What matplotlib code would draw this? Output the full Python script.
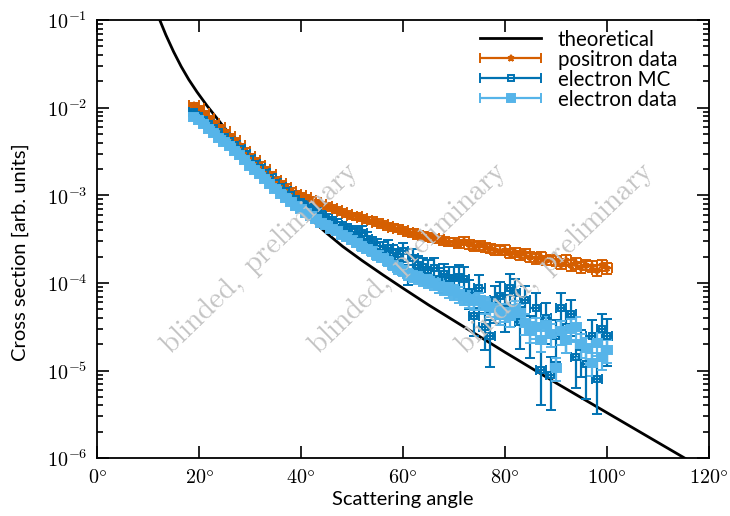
import numpy as np
import matplotlib
matplotlib.use("Agg")
import matplotlib.pyplot as plt
from matplotlib.ticker import FixedLocator, FixedFormatter, LogLocator, NullFormatter
from matplotlib.lines import Line2D
from matplotlib.container import ErrorbarContainer
from matplotlib.legend_handler import HandlerErrorbar

# ---------------- data ----------------
angles = list(range(19, 101))  # degrees, bin centres

positron_log10 = [
    -1.97, -2.00, -2.06, -2.12, -2.17, -2.22, -2.27, -2.32, -2.37, -2.43,
    -2.49, -2.55, -2.60, -2.65, -2.70, -2.76, -2.82, -2.86, -2.90, -2.95,
    -2.98, -3.00, -3.02, -3.05, -3.08, -3.10, -3.12, -3.14, -3.17, -3.19,
    -3.21, -3.23, -3.24, -3.26, -3.28, -3.29, -3.31, -3.33, -3.35, -3.37,
    -3.38, -3.40, -3.42, -3.43, -3.45, -3.46, -3.47, -3.49, -3.50, -3.52,
    -3.53, -3.53, -3.55, -3.52, -3.56, -3.58, -3.57, -3.59, -3.60, -3.62,
    -3.63, -3.62, -3.66, -3.65, -3.68, -3.66, -3.70, -3.72, -3.70, -3.74,
    -3.73, -3.75, -3.78, -3.74, -3.80, -3.77, -3.82, -3.79, -3.81, -3.85,
    -3.80, -3.83]
positron_relerr = [
    0.05, 0.05, 0.05, 0.05, 0.05, 0.05, 0.05, 0.05, 0.05, 0.05,
    0.06, 0.06, 0.06, 0.06, 0.06, 0.06, 0.06, 0.06, 0.06, 0.07,
    0.07, 0.07, 0.07, 0.07, 0.07, 0.07, 0.08, 0.08, 0.08, 0.08,
    0.08, 0.08, 0.08, 0.08, 0.09, 0.09, 0.09, 0.09, 0.09, 0.09,
    0.09, 0.10, 0.10, 0.10, 0.10, 0.10, 0.10, 0.10, 0.10, 0.11,
    0.11, 0.11, 0.11, 0.11, 0.11, 0.11, 0.11, 0.12, 0.12, 0.12,
    0.12, 0.12, 0.12, 0.12, 0.12, 0.13, 0.13, 0.13, 0.13, 0.13,
    0.13, 0.13, 0.13, 0.14, 0.14, 0.14, 0.14, 0.14, 0.14, 0.14,
    0.14, 0.14]

mc_log10 = [
    -2.05, -2.09, -2.14, -2.19, -2.23, -2.28, -2.33, -2.38, -2.43, -2.47,
    -2.53, -2.59, -2.64, -2.69, -2.74, -2.80, -2.86, -2.91, -2.95, -3.00,
    -3.04, -3.08, -3.12, -3.15, -3.19, -3.23, -3.27, -3.31, -3.34, -3.37,
    -3.40, -3.42, -3.45, -3.43, -3.50, -3.55, -3.58, -3.62, -3.60, -3.66,
    -3.70, -3.64, -3.89, -3.72, -3.80, -3.82, -3.85, -3.83, -3.95, -3.90,
    -3.94, -3.94, -3.93, -3.95, -4.10, -4.38, -4.06, -4.50, -4.61, -4.20,
    -4.15, -4.30, -4.06, -4.12, -4.45, -4.20, -4.55, -4.28, -4.99, -4.40,
    -5.05, -4.60, -4.28, -4.50, -4.35, -4.85, -4.73, -4.93, -4.60, -5.10,
    -4.53, -4.60]
mc_relerr = [
    0.05, 0.05, 0.05, 0.06, 0.06, 0.06, 0.06, 0.07, 0.07, 0.07,
    0.08, 0.08, 0.08, 0.09, 0.09, 0.10, 0.10, 0.10, 0.11, 0.11,
    0.12, 0.12, 0.13, 0.13, 0.14, 0.14, 0.15, 0.15, 0.16, 0.16,
    0.17, 0.18, 0.18, 0.19, 0.20, 0.20, 0.21, 0.22, 0.22, 0.23,
    0.24, 0.25, 0.26, 0.27, 0.28, 0.28, 0.29, 0.30, 0.31, 0.32,
    0.33, 0.34, 0.35, 0.36, 0.37, 0.40, 0.40, 0.45, 0.55, 0.45,
    0.45, 0.45, 0.45, 0.45, 0.50, 0.45, 0.50, 0.45, 0.60, 0.50,
    0.60, 0.50, 0.45, 0.50, 0.45, 0.55, 0.55, 0.60, 0.50, 0.60,
    0.50, 0.55]

edata_log10 = [
    -2.10, -2.14, -2.19, -2.24, -2.29, -2.34, -2.39, -2.44, -2.49, -2.54,
    -2.60, -2.66, -2.71, -2.76, -2.81, -2.87, -2.93, -2.98, -3.03, -3.08,
    -3.12, -3.16, -3.20, -3.23, -3.27, -3.31, -3.34, -3.38, -3.41, -3.45,
    -3.48, -3.51, -3.54, -3.58, -3.61, -3.64, -3.68, -3.71, -3.75, -3.79,
    -3.83, -3.86, -3.90, -3.92, -3.94, -3.96, -3.98, -4.00, -4.03, -4.05,
    -4.08, -4.10, -4.13, -4.16, -4.18, -4.21, -4.20, -4.25, -4.27, -4.28,
    -4.36, -4.33, -4.38, -4.30, -4.34, -4.46, -4.55, -4.50, -4.65, -4.48,
    -4.58, -4.97, -4.55, -4.65, -4.52, -4.50, -4.70, -4.74, -4.91, -4.68,
    -4.84, -4.76]
edata_relerr = [
    0.04, 0.04, 0.04, 0.04, 0.04, 0.04, 0.04, 0.05, 0.05, 0.05,
    0.05, 0.05, 0.05, 0.05, 0.06, 0.06, 0.06, 0.06, 0.06, 0.07,
    0.07, 0.07, 0.07, 0.08, 0.08, 0.08, 0.08, 0.09, 0.09, 0.09,
    0.10, 0.10, 0.10, 0.11, 0.11, 0.11, 0.12, 0.12, 0.13, 0.13,
    0.14, 0.14, 0.15, 0.15, 0.16, 0.16, 0.17, 0.17, 0.18, 0.18,
    0.19, 0.19, 0.20, 0.20, 0.21, 0.21, 0.22, 0.22, 0.23, 0.23,
    0.24, 0.24, 0.25, 0.25, 0.26, 0.26, 0.27, 0.27, 0.28, 0.28,
    0.29, 0.29, 0.30, 0.30, 0.30, 0.30, 0.30, 0.30, 0.30, 0.30,
    0.30, 0.30]

bin_halfwidth = 1.0

theory_angles = [12.3, 13.5, 15.0, 16.5, 18.0, 19.6, 21.6, 25, 30, 35, 40, 45, 48.2,
                 52, 56, 60, 65, 70, 75, 80, 85, 90, 95, 100, 105, 110, 115.3, 118]
theory_log10 = [-1.0, -1.17, -1.36, -1.53, -1.68, -1.82, -1.98, -2.23, -2.57, -2.885,
                -3.17, -3.43, -3.584, -3.745, -3.905, -4.06, -4.25, -4.43, -4.61,
                -4.79, -4.965, -5.14, -5.31, -5.48, -5.65, -5.82, -6.0, -6.09]

x_ticks = [0, 20, 40, 60, 80, 100, 120]
x_ticklabels = [r"$0\degree$", r"$20\degree$", r"$40\degree$", r"$60\degree$",
                r"$80\degree$", r"$100\degree$", r"$120\degree$"]
y_ticks = [1e-6, 1e-5, 1e-4, 1e-3, 1e-2, 1e-1]
y_ticklabels = [r"$10^{-6}$", r"$10^{-5}$", r"$10^{-4}$", r"$10^{-3}$",
                r"$10^{-2}$", r"$10^{-1}$"]

# ---------------- styling ----------------
plt.rcParams["mathtext.fontset"] = "cm"
plt.rcParams["font.family"] = ["Lato", "DejaVu Sans"]

c_pos = "#D55E00"
c_mc = "#0072B2"
c_dat = "#56B4E9"

fig = plt.figure(figsize=(7.3, 5.16), dpi=100)
ax = fig.add_axes([0.133, 0.112, 0.838, 0.849])

h_th, = ax.plot(theory_angles, 10 ** np.array(theory_log10), color="black", lw=2.0,
                label="theoretical", zorder=2)

eb_kw = dict(mew=1.4, lw=1.6, capsize=3.5, capthick=1.6, ls="none")

def draw(logv, rel, color, marker, label, ms, mfc):
    y = 10 ** np.array(logv)
    return ax.errorbar(angles, y, yerr=y * np.array(rel), xerr=bin_halfwidth,
                       color=color, marker=marker, ms=ms, mfc=mfc, mec=color,
                       label=label, zorder=3, **eb_kw)

h_pos = draw(positron_log10, positron_relerr, c_pos, "*", "positron data", 5, c_pos)
h_mc = draw(mc_log10, mc_relerr, c_mc, "s", "electron MC", 5, "none")
h_dat = draw(edata_log10, edata_relerr, c_dat, "s", "electron data", 6, c_dat)

ax.set_yscale("log")
ax.set_xlim(0, 120)
ax.set_ylim(1e-6, 1e-1)

ax.xaxis.set_major_locator(FixedLocator(x_ticks))
ax.xaxis.set_major_formatter(FixedFormatter(x_ticklabels))
ax.yaxis.set_major_locator(FixedLocator(y_ticks))
ax.yaxis.set_major_formatter(FixedFormatter(y_ticklabels))
ax.yaxis.set_minor_locator(LogLocator(base=10, subs=np.arange(2, 10), numticks=20))
ax.yaxis.set_minor_formatter(NullFormatter())

ax.tick_params(which="both", direction="in", top=True, right=True, labelsize=14.5,
               width=1.2, pad=7)
ax.tick_params(which="major", length=8.5)
ax.tick_params(which="minor", length=4.5)
for s in ax.spines.values():
    s.set_linewidth(1.3)

ax.set_xlabel("Scattering angle", fontsize=14.5, labelpad=4)
ax.set_ylabel("Cross section [arb. units]", fontsize=14.5)
ax.yaxis.set_label_coords(-0.112, 0.47)

wm = r"$\mathrm{blinded,\ preliminary}$"
for xf in [0.266, 0.508, 0.748]:
    ax.text(xf, 0.457, wm, transform=ax.transAxes, rotation=44, rotation_mode="anchor",
            ha="center", va="center", fontsize=21, color="#c4c4c4", zorder=5)

hl = 3.0
leg = ax.legend([h_th, h_pos, h_mc, h_dat],
                ["theoretical", "positron data", "electron MC", "electron data"],
                loc="upper right", bbox_to_anchor=(0.962, 0.997), borderaxespad=0.0,
                frameon=False, fontsize=14.8, handlelength=hl,
                handletextpad=0.8, labelspacing=0.0,
                handler_map={ErrorbarContainer: HandlerErrorbar(xerr_size=hl / 2,
                                                                yerr_size=0.0)})

fig.savefig("out.png", dpi=100)
